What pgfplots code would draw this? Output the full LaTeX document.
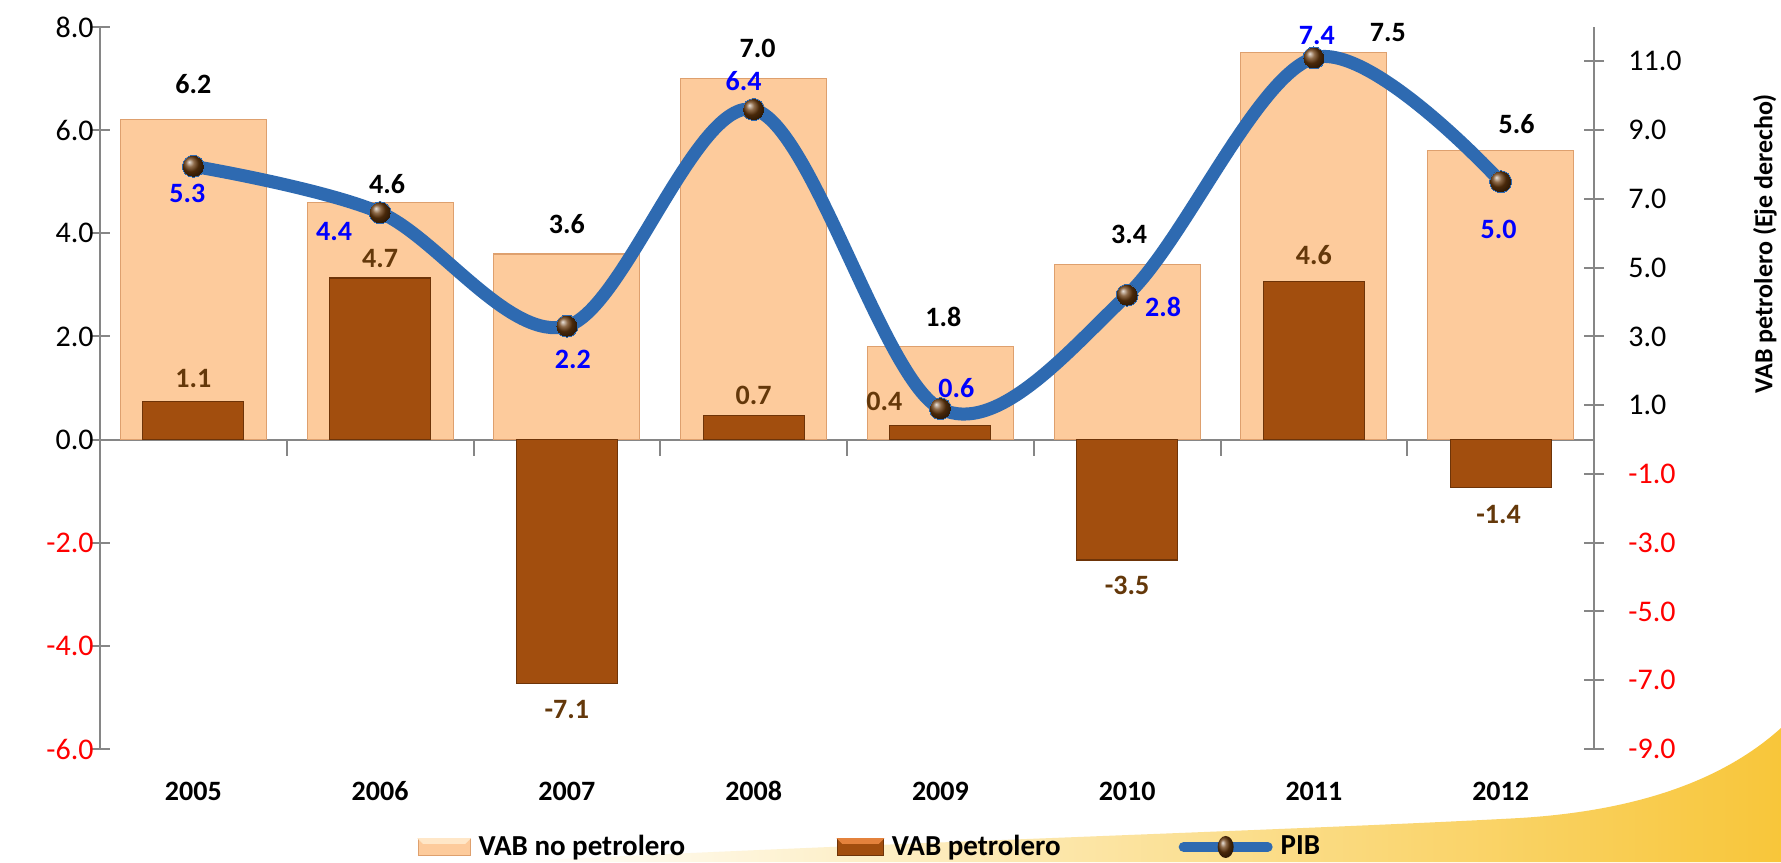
\documentclass[border=0pt]{standalone}
\usepackage{pgfplots}
\pgfplotsset{compat=1.18}
\usepackage{pgfplotstable}
\usepackage{fontspec}
\setmainfont{Carlito}

\definecolor{peach}{RGB}{253,203,156}
\definecolor{peachlt}{RGB}{255,231,200}
\definecolor{peachln}{RGB}{222,160,110}
\definecolor{brownb}{RGB}{162,78,14}
\definecolor{brownlt}{RGB}{228,130,60}
\definecolor{brownln}{RGB}{110,52,8}
\definecolor{pibblue}{RGB}{46,106,177}
\definecolor{labbrown}{RGB}{100,56,10}
\definecolor{axgray}{RGB}{134,134,134}
\definecolor{gold}{RGB}{248,198,58}
\definecolor{ballbrown}{RGB}{105,58,14}

\newcommand\ticfont{\fontsize{15pt}{18pt}\selectfont}
\newcommand\datfont{\bfseries\fontsize{14pt}{16pt}\selectfont}
\newcommand\legfont{\bfseries\fontsize{14.5pt}{16pt}\selectfont}

\pgfplotstableread{
x y dx dy
0 6.2 0 18
1 4.6 3.5 9
2 3.6 0 15
3 7.0 2 15
4 1.8 1.5 15
5 3.4 1 15
6 7.5 37 10
7 5.6 8 13.5
}\nopet

\pgfplotstableread{
x y dx dy
0 1.1 0 11.5
1 4.7 0 9.5
2 -7.1 0 -13
3 0.7 0 10
4 0.4 -28 12
5 -3.5 0 -13
6 4.6 0 13
7 -1.4 -1 -13.5
}\pet

\pgfplotstableread{
x y dx dy
0 5.3 -3 -13.5
1 4.4 -23 -9.5
2 2.2 3 -16.5
3 6.4 -5 14
4 0.6 8 10.5
5 2.8 18 -6
6 7.4 1.5 11
7 5.0 -1 -24
}\pib

\pgfplotsset{
 common/.style={
  at={(50pt,56.5pt)}, anchor=south west, scale only axis,
  width=747pt, height=361pt, xmin=-0.5, xmax=7.5, clip=false,
  axis line style={draw=axgray, line width=1pt, -},
  every tick/.style={draw=axgray, line width=1pt},
  tick align=center, major tick length=10pt, minor tick length=8pt,
 }
}

\begin{document}
\begin{tikzpicture}
\useasboundingbox (0,0) rectangle (890.5pt,431pt);
\fill[white] (0,0) rectangle (890.5pt,431pt);
\shade[left color=white, right color=gold] (250pt,0pt) .. controls (450pt,10pt) and (650pt,16pt) .. (760pt,22pt) .. controls (825pt,26pt) and (865pt,44pt) .. (890.5pt,67pt) -- (890.5pt,0pt) -- cycle;

% Left axis: VAB no petrolero
\begin{axis}[common,
  ymin=-6, ymax=8,
  axis y line*=left, axis x line*=middle,
  ytick={-6,-4,...,8},
  yticklabels={\color{red}-6.0,\color{red}-4.0,\color{red}-2.0,0.0,2.0,4.0,6.0,8.0},
  yticklabel style={font=\ticfont, anchor=east, inner sep=0pt, xshift=2pt},
  xtick={0,...,7},
  xticklabels={2005,2006,2007,2008,2009,2010,2011,2012},
  major x tick style={draw=none},
  minor xtick={-0.5,0.5,...,7.5},
  xticklabel style={font=\datfont, anchor=center, yshift=-165.7pt},
  ybar, bar width=73pt, bar shift=0pt,
]
\addplot[fill=peach, draw=peachln, line width=0.6pt,
  nodes near coords, point meta=explicit symbolic,
  visualization depends on={\thisrow{dx}\as\dx},
  visualization depends on={\thisrow{dy}\as\dy},
  nodes near coords style={anchor=center, xshift=\dx pt, yshift=\dy pt, font=\datfont, text=black}]
  table[x=x, y=y, meta=y] {\nopet};
\end{axis}

% Right axis: VAB petrolero
\begin{axis}[common,
  ymin=-9, ymax=12,
  axis y line*=right, axis x line=none,
  ytick={-9,-7,...,11},
  yticklabels={\color{red}-9.0,\color{red}-7.0,\color{red}-5.0,\color{red}-3.0,\color{red}-1.0,1.0,3.0,5.0,7.0,9.0,11.0},
  yticklabel style={font=\ticfont, anchor=west, inner sep=0pt, xshift=12pt},
  ylabel={VAB petrolero (Eje derecho)},
  every axis y label/.style={at={(rel axis cs:1,0.7)}, xshift=85.5pt, rotate=90, anchor=center, font=\bfseries\fontsize{13pt}{15pt}\selectfont},
  ybar, bar width=50.5pt, bar shift=0pt,
]
\addplot[fill=brownb, draw=brownln, line width=0.6pt,
  nodes near coords, point meta=explicit symbolic,
  visualization depends on={\thisrow{dx}\as\dx},
  visualization depends on={\thisrow{dy}\as\dy},
  nodes near coords style={anchor=center, xshift=\dx pt, yshift=\dy pt, font=\datfont, text=labbrown}]
  table[x=x, y=y, meta=y] {\pet};
\end{axis}

% PIB line (left scale)
\begin{axis}[common,
  ymin=-6, ymax=8, hide axis,
  legend columns=3,
  legend style={at={(rel axis cs:0.516,-0.1357)}, anchor=center, draw=none, fill=none,
    font=\legfont,
    /tikz/column 2/.style={column sep=74pt},
    /tikz/column 4/.style={column sep=57pt},
    /tikz/every odd column/.style={column sep=2pt}},
]
\addlegendimage{legend image code/.code={
  \fill[peach, draw=peachln] (0pt,-4.25pt) rectangle (26pt,4.25pt);
  \fill[peachlt] (0pt,4.25pt) -- (26pt,4.25pt) -- (23.5pt,1.75pt) -- (2.5pt,1.75pt) -- cycle;}}
\addlegendentry{VAB no petrolero}
\addlegendimage{legend image code/.code={
  \fill[brownb, draw=brownln] (0pt,-4.25pt) rectangle (23pt,4.25pt);
  \fill[brownlt] (0pt,4.25pt) -- (23pt,4.25pt) -- (20.5pt,1.75pt) -- (2.5pt,1.75pt) -- cycle;}}
\addlegendentry{VAB petrolero}
\addplot[pibblue, line width=6.5pt, smooth, tension=0.55,
  mark=ball, mark size=5.5pt, mark options={ball color=ballbrown, draw=none, line width=0pt},
  legend image code/.code={
    \draw[pibblue, line width=5pt, line cap=round] (2pt,0pt) -- (44pt,0pt);
    \shade[ball color=ballbrown, draw=none, line width=0pt] (23pt,0pt) ellipse (4pt and 5.5pt);},
  nodes near coords, point meta=explicit symbolic,
  visualization depends on={\thisrow{dx}\as\dx},
  visualization depends on={\thisrow{dy}\as\dy},
  nodes near coords style={anchor=center, xshift=\dx pt, yshift=\dy pt, font=\datfont, text=blue}]
  table[x=x, y=y, meta=y] {\pib};
\addlegendentry{PIB}
\end{axis}
\end{tikzpicture}
\end{document}
